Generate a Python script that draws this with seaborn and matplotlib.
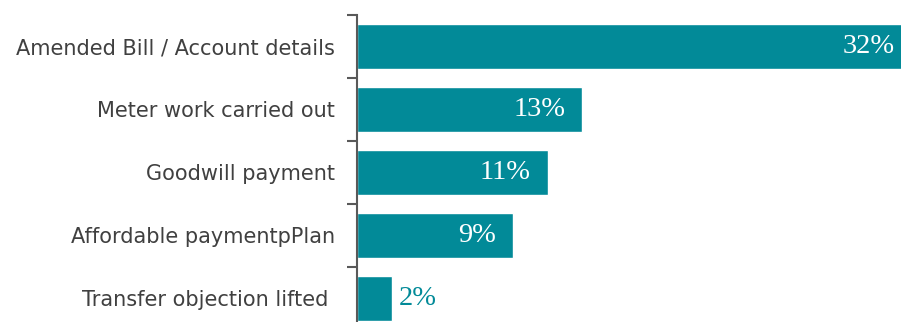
import matplotlib
matplotlib.use("Agg")
import matplotlib.pyplot as plt
import seaborn as sns
import pandas as pd

# Resolution outcomes and their share of cases
categories = [
    "Amended Bill / Account details",
    "Meter work carried out",
    "Goodwill payment",
    "Affordable paymentpPlan",
    "Transfer objection lifted ",
]
shares = [32, 13, 11, 9, 2]
value_labels = ["32%", "13%", "11%", "9%", "2%"]

BAR_COLOR = "#028A98"
TEXT_COLOR = "#404040"
SPINE_COLOR = "#595959"

sns.set_theme(style="white")
plt.rcParams["font.family"] = ["DejaVu Sans"]

df = pd.DataFrame({"category": categories, "share": shares})

fig = plt.figure(figsize=(9.01, 3.22), dpi=100)
ax = fig.add_axes([357 / 901, -0.0248, 1 - 357 / 901, 0.9782])

sns.barplot(data=df, x="share", y="category", orient="h", color=BAR_COLOR,
            saturation=1, width=0.70, ax=ax)

ax.set_xlim(0, 31.4)
ax.set_ylim(4.5, -0.5)
ax.set_xlabel("")
ax.set_ylabel("")
ax.set_xticks([])

# category boundaries get tick marks, names sit at the bar centres
ax.set_yticks([i - 0.5 for i in range(len(categories) + 1)])
ax.set_yticklabels([])
ax.set_yticks(range(len(categories)), minor=True)
ax.set_yticklabels(categories, minor=True)
ax.tick_params(axis="y", which="major", length=7, width=1.5, color=SPINE_COLOR, left=True)
ax.tick_params(axis="y", which="minor", length=0, pad=16, labelsize=15, labelcolor=TEXT_COLOR)

for side in ["top", "right", "bottom"]:
    ax.spines[side].set_visible(False)
ax.spines["left"].set_color(SPINE_COLOR)
ax.spines["left"].set_linewidth(1.5)
ax.grid(False)

# value labels: inside the bar end when they fit, otherwise just past it
for i, (v, lab) in enumerate(zip(shares, value_labels)):
    if v >= 5:
        ax.annotate(lab, xy=(v, i), xytext=(-12, 0), textcoords="offset points",
                    ha="right", va="center", color="white", fontsize=20.5,
                    family="Liberation Serif", annotation_clip=False)
    else:
        ax.annotate(lab, xy=(v, i), xytext=(5, 0), textcoords="offset points",
                    ha="left", va="center", color=BAR_COLOR, fontsize=20.5,
                    family="Liberation Serif", annotation_clip=False)

fig.savefig("out.png", dpi=100)
